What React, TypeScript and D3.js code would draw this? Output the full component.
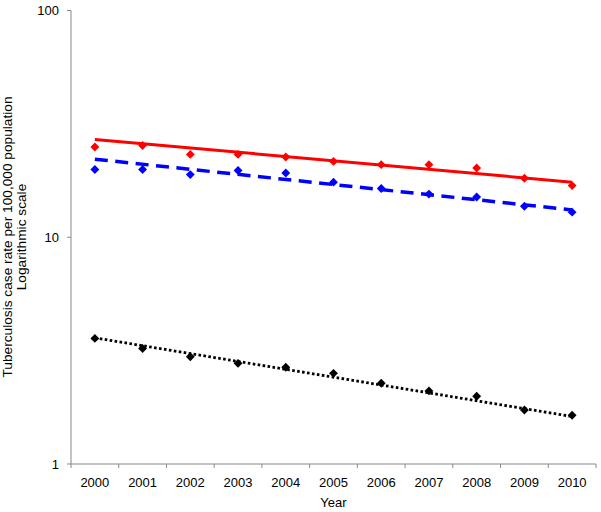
import React from "react";
import * as d3 from "d3";

const years = ["2000","2001","2002","2003","2004","2005","2006","2007","2008","2009","2010"];
const redPoints = [25.0, 25.4, 23.2, 23.2, 22.6, 21.6, 20.9, 20.9, 20.2, 18.2, 16.9];
const bluePoints = [19.9, 19.9, 18.9, 19.7, 19.2, 17.5, 16.4, 15.5, 15.05, 13.7, 12.9];
const blackPoints = [3.58, 3.23, 2.97, 2.78, 2.67, 2.51, 2.27, 2.10, 1.99, 1.73, 1.64];
const redTrend = [27.0, 17.5];
const blueTrend = [22.1, 13.2];
const blackTrend = [3.6, 1.62];
const yTicks = [1, 10, 100];

const W = 601, H = 512;
const left = 71, right = 596, top = 10.5, bottom = 464;

export default function App() {
  const x = d3.scaleBand().domain(years).range([left, right]);
  const y = d3.scaleLog().domain([1, 100]).range([bottom, top]);
  const cx = (yr: string) => (x(yr) as number) + x.bandwidth() / 2;
  const diamond = d3.symbol().type(d3.symbolDiamond2).size(50)();
  const trendLine = (vals: number[]) => {
    const line = d3.line<[string, number]>().x(d => cx(d[0])).y(d => y(d[1]));
    return line([[years[0], vals[0]], [years[years.length - 1], vals[1]]]) as string;
  };
  const series = [
    { pts: redPoints, trend: redTrend, color: "#ff0000", dash: undefined, w: 3 },
    { pts: bluePoints, trend: blueTrend, color: "#0000ff", dash: "13 7.5", w: 3.5 },
    { pts: blackPoints, trend: blackTrend, color: "#000000", dash: "2.6 2.4", w: 2.8 },
  ];
  const axisColor = "#888888";
  const font = "Liberation Sans, Arial, sans-serif";
  const boundaries = years.map(yr => x(yr) as number).concat([right]);
  return (
    <svg width={W} height={H} style={{ position: "absolute", left: 0, top: 0, background: "#fff" }}>
      <rect width={W} height={H} fill="#fff" />
      <line x1={left} x2={left} y1={top} y2={bottom} stroke={axisColor} strokeWidth={1} />
      <line x1={left} x2={right} y1={bottom} y2={bottom} stroke={axisColor} strokeWidth={1} />
      {yTicks.map(t => (
        <g key={t}>
          <line x1={left - 4} x2={left} y1={y(t)} y2={y(t)} stroke={axisColor} />
          <text x={left - 12} y={y(t)} dy="0.35em" textAnchor="end" fontFamily={font} fontSize={13} fill="#000">{t}</text>
        </g>
      ))}
      {boundaries.map((b, i) => (
        <line key={i} x1={b} x2={b} y1={bottom} y2={bottom + 4} stroke={axisColor} />
      ))}
      {years.map(yr => (
        <text key={yr} x={cx(yr)} y={487} textAnchor="middle" fontFamily={font} fontSize={13} fill="#000">{yr}</text>
      ))}
      <text x={(left + right) / 2} y={507} textAnchor="middle" fontFamily={font} fontSize={13} fill="#000">Year</text>
      <text transform={`translate(11.8,237) rotate(-90)`} textAnchor="middle" fontFamily={font} fontSize={13.7} fill="#000">Tuberculosis case rate per 100,000 population</text>
      <text transform={`translate(25.8,237) rotate(-90)`} textAnchor="middle" fontFamily={font} fontSize={13.7} fill="#000">Logarithmic scale</text>
      {series.map((s, si) => (
        <g key={si}>
          {s.pts.map((v, i) => (
            <path key={i} d={diamond} transform={`translate(${cx(years[i])},${y(v)})`} fill={s.color} />
          ))}
          <path d={trendLine(s.trend)} fill="none" stroke={s.color} strokeWidth={s.w} strokeDasharray={s.dash} />
        </g>
      ))}
    </svg>
  );
}
